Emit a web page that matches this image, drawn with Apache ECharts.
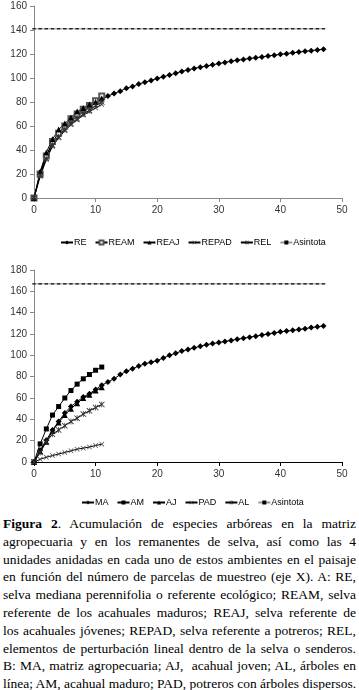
<!DOCTYPE html>
<html lang="es">

<head>
    <meta charset="UTF-8">
    <title>Figura 2</title>
    <style>
        body { margin: 0; background: #fff; }
        #main { position: absolute; left: 0; top: 0; width: 359px; height: 515px; }
        #caption {
            position: absolute; left: 3px; top: 515px; width: 353px;
            font-family: 'Liberation Serif', 'Times New Roman', serif;
            font-size: 13.5px; line-height: 17.8px; color: #000;
        }
        #caption div { text-align: justify; text-align-last: justify; white-space: nowrap; }
    </style>
</head>

<body>
    <div id="main"></div>
    <div id="caption">
        <div><b>Figura 2</b>. Acumulación de especies arbóreas en la matriz</div>
        <div>agropecuaria y en los remanentes de selva, así como las 4</div>
        <div>unidades anidadas en cada uno de estos ambientes en el paisaje</div>
        <div>en función del número de parcelas de muestreo (eje X). A: RE,</div>
        <div>selva mediana perennifolia o referente ecológico; REAM, selva</div>
        <div>referente de los acahuales maduros; REAJ, selva referente de</div>
        <div>los acahuales jóvenes; REPAD, selva referente a potreros; REL,</div>
        <div>elementos de perturbación lineal dentro de la selva o senderos.</div>
        <div>B: MA, matriz agropecuaria; AJ,&nbsp; acahual joven; AL, árboles en</div>
        <div>línea; AM, acahual maduro; PAD, potreros con árboles dispersos.</div>
    </div>
    <script src="https://cdn.jsdelivr.net/npm/echarts@6/dist/echarts.min.js"></script>
    <script type="text/javascript">
        // numero de parcelas (eje X)
        var parcelasLargo = [0, 1, 2, 3, 4, 5, 6, 7, 8, 9, 10, 11, 12, 13, 14, 15, 16, 17, 18, 19, 20, 21, 22, 23,
            24, 25, 26, 27, 28, 29, 30, 31, 32, 33, 34, 35, 36, 37, 38, 39, 40, 41, 42, 43, 44, 45, 46, 47];
        var parcelasCorto = [0, 1, 2, 3, 4, 5, 6, 7, 8, 9, 10, 11];

        // A: remanentes de selva
        var RE = [0, 21, 35, 45, 52, 58, 64, 68, 72, 76, 79, 82, 85, 87, 89, 91.5, 93, 95, 96.5, 98,
            99.5, 101, 102.5, 104, 105.5, 106.7, 108, 109, 110, 111, 112, 113, 114, 114.8, 115.5, 116.2,
            116.9, 117.6, 118.3, 119, 119.7, 120.3, 121, 121.6, 122.2, 122.8, 123.4, 124];
        var REAM = [0, 20, 35, 47, 54, 60, 66, 70, 74, 77, 81, 85];
        var REAJ = [0, 22, 38, 49, 57, 62, 67, 72, 75, 78, 80, 83];
        var REPAD = [0, 18, 32, 43, 50, 56, 61, 65, 69, 72, 75, 78];
        var REL = [0, 19, 33, 44, 51, 57, 62, 66, 70, 73, 77, 80];
        var asintotaA = 141;

        // B: matriz agropecuaria
        var MA = [0, 11, 20.5, 30, 38, 46, 52, 56.5, 61, 64, 68, 72, 75, 78, 82, 85, 87.5, 90, 92, 93.5,
            95, 97.5, 100, 102, 104, 105.5, 107, 108.5, 110, 111, 112, 113, 114, 115, 116, 117, 118, 119,
            120, 121, 122, 122.7, 123.4, 124.2, 125, 126, 126.7, 127.5];
        var AM = [0, 17, 31, 44, 52, 60, 67, 73, 78, 82, 86, 89];
        var AJ = [0, 10, 19, 29, 37, 44, 50, 55, 60, 63, 67, 70];
        var PAD = [0, 2.5, 4.5, 6, 7.5, 9, 10.5, 12, 13, 14, 15.5, 16.6];
        var AL = [0, 9, 19, 26, 30, 34, 38, 41, 45, 48, 51, 54];
        var asintotaB = 167;

        var legendA = ['RE', 'REAM', 'REAJ', 'REPAD', 'REL', 'Asintota'];
        var legendB = ['MA', 'AM', 'AJ', 'PAD', 'AL', 'Asintota'];

        var cruz = 'path://M0,1L1,0L5,4L9,0L10,1L6,5L10,9L9,10L5,6L1,10L0,9L4,5Z';
        var estrella = 'path://M0,1L1,0L4.4,3.4L4.4,0L5.6,0L5.6,3.4L9,0L10,1L6,5L10,9L9,10L5.6,6.6L5.6,10L4.4,10L4.4,6.6L1,10L0,9L4,5Z';

        function pares(xs, ys) {
            return xs.map(function(x, i) { return [x, ys[i]]; });
        }

        function linea(nombre, idx, xs, ys, simbolo, tam, color) {
            return {
                name: nombre,
                type: 'line',
                xAxisIndex: idx,
                yAxisIndex: idx,
                data: pares(xs, ys),
                symbol: simbolo,
                symbolSize: tam,
                showAllSymbol: true,
                lineStyle: { color: '#000', width: 1 },
                itemStyle: { color: color || '#000', borderWidth: simbolo === 'emptyRect' ? 1 : 0 },
                z: 3
            };
        }

        function asintota(idx, valor) {
            return {
                name: 'Asintota',
                type: 'line',
                xAxisIndex: idx,
                yAxisIndex: idx,
                data: parcelasLargo.map(function(x) { return [x, valor]; }),
                symbol: 'rect',
                symbolSize: [3.5, 1.2],
                showAllSymbol: true,
                lineStyle: { color: '#999', width: 1 },
                itemStyle: { color: '#000' },
                z: 2
            };
        }

        var ejeX = function(idx, colorLinea) {
            return {
                type: 'value', gridIndex: idx, min: 0, max: 50, interval: 10,
                axisLine: { lineStyle: { color: colorLinea, width: 1 } },
                axisTick: { show: true, length: 4, lineStyle: { color: colorLinea } },
                axisLabel: { color: '#333', fontSize: 10, fontFamily: 'Arial, Liberation Sans, sans-serif', margin: 7 },
                splitLine: { show: false }
            };
        };
        var ejeY = function(idx, max) {
            return {
                type: 'value', gridIndex: idx, min: 0, max: max, interval: 20,
                axisLine: { show: true, lineStyle: { color: '#888', width: 1 } },
                axisTick: { show: true, length: 4, lineStyle: { color: '#888' } },
                axisLabel: { color: '#333', fontSize: 10, fontFamily: 'Arial, Liberation Sans, sans-serif', margin: 7 },
                splitLine: { show: false }
            };
        };

        var leyenda = function(datos, izq, arriba, gap) {
            return {
                data: datos, left: izq, top: arriba, itemWidth: 12, itemHeight: 5, itemGap: gap,
                selectedMode: false,
                textStyle: {
                    color: '#000', fontSize: 9,
                    fontFamily: "'Liberation Sans Narrow', 'Arial Narrow', Arial, sans-serif",
                    padding: [0, 0, 0, -4]
                }
            };
        };

        var myChart = echarts.init(document.getElementById('main'));

        var option = {
            animation: false,
            backgroundColor: '#fff',
            grid: [
                { left: 34, top: 6, width: 308, height: 192 },
                { left: 34, top: 270, width: 308, height: 192 }
            ],
            xAxis: [ejeX(0, '#888'), ejeX(1, '#000')],
            yAxis: [ejeY(0, 160), ejeY(1, 180)],
            legend: [
                leyenda(legendA, 55, 233, 8),
                leyenda(legendB, 76, 493, 8)
            ],
            series: [
                asintota(0, asintotaA),
                linea('RE', 0, parcelasLargo, RE, 'diamond', 6),
                linea('REAM', 0, parcelasCorto, REAM, 'emptyRect', 5, '#555'),
                linea('REAJ', 0, parcelasCorto, REAJ, 'triangle', 6),
                linea('REPAD', 0, parcelasCorto, REPAD, cruz, 5, '#444'),
                linea('REL', 0, parcelasCorto, REL, estrella, 6, '#333'),
                asintota(1, asintotaB),
                linea('MA', 1, parcelasLargo, MA, 'diamond', 6),
                linea('AM', 1, parcelasCorto, AM, 'rect', 5),
                linea('AJ', 1, parcelasCorto, AJ, 'triangle', 6),
                linea('PAD', 1, parcelasCorto, PAD, cruz, 5, '#444'),
                linea('AL', 1, parcelasCorto, AL, estrella, 6, '#333')
            ]
        };
        myChart.setOption(option);

        window.onresize = function() {
            myChart.resize();
        };
    </script>

</body>

</html>
